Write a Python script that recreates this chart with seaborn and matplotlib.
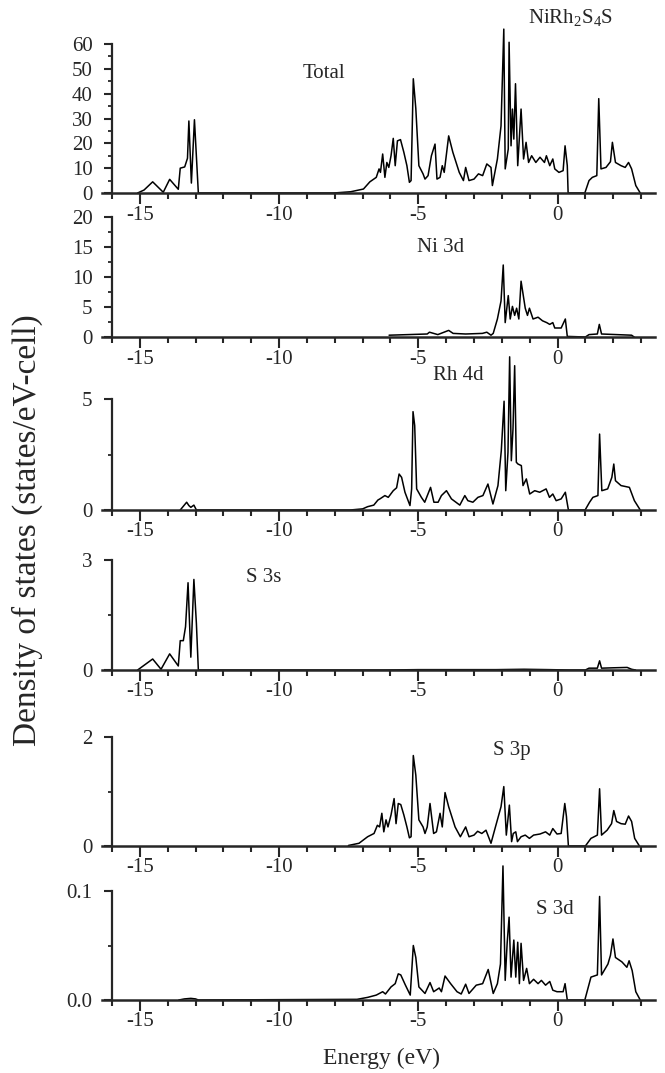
import matplotlib
matplotlib.use('Agg')
import matplotlib.pyplot as plt
from matplotlib.ticker import MultipleLocator, FormatStrFormatter
import seaborn as sns
import pandas as pd

# =============================================================================
# Data (energy in eV, DOS in states/eV-cell)

e_total = [-15.08, -14.85, -14.54, -14.16, -13.93, -13.62, -13.55, -13.39, -13.29, -13.24,
           -13.15, -13.04, -12.9, -8.04, -7.43, -6.97, -6.74, -6.51, -6.41, -6.36,
           -6.28, -6.2, -6.13, -6.06, -5.98, -5.9, -5.83, -5.75, -5.64, -5.52,
           -5.41, -5.32, -5.26, -5.18, -5.09, -4.98, -4.83, -4.76, -4.65, -4.53,
           -4.4, -4.33, -4.22, -4.14, -4.07, -3.91, -3.76, -3.53, -3.38, -3.3,
           -3.18, -3.0, -2.84, -2.69, -2.54, -2.39, -2.34, -2.16, -2.03, -1.93,
           -1.88, -1.77, -1.74, -1.67, -1.62, -1.57, -1.51, -1.43, -1.31, -1.22,
           -1.13, -1.04, -0.93, -0.78, -0.63, -0.47, -0.4, -0.28, -0.17, -0.1,
           0.05, 0.2, 0.27, 0.35, 0.38, 0.98, 1.13, 1.25, 1.41, 1.48,
           1.56, 1.74, 1.9, 1.97, 2.08, 2.28, 2.43, 2.55, 2.66, 2.81, 2.97]
dos_total = [0, 1.2, 4.5, 0.3, 5.5, 1.5, 10, 10.5, 14, 29,
             4, 29.5, 0, 0, 0.5, 1.6, 4.5, 6.3, 9.7, 8.3,
             15.7, 6.3, 12.3, 10.3, 15, 22, 11, 21, 21.5, 16.4,
             11, 4.3, 5, 46, 34, 11, 7.7, 5.6, 7, 15,
             19.7, 5.6, 6.3, 11, 8.3, 23, 16.4, 8.3, 5, 10.3,
             5, 5.6, 7.7, 7, 11.7, 10.3, 3, 13.7, 27, 66,
             9.7, 17.7, 60.7, 19, 33.8, 21.7, 44, 11, 33.8, 13.7,
             20.4, 12.3, 15, 12.3, 14.4, 12.3, 15, 11, 13.7, 9.7,
             8.3, 9, 19, 11, 0, 0, 5, 6.3, 7, 38,
             9.7, 10.3, 12.6, 20.4, 12.3, 11, 10.3, 12.3, 9.7, 3, 0]

e_ni3d = [-6.05, -4.68, -4.6, -4.3, -3.91, -3.75, -3.3, -2.7, -2.54, -2.39,
          -2.31, -2.16, -2.03, -1.95, -1.88, -1.77, -1.7, -1.62, -1.54, -1.47,
          -1.39, -1.31, -1.24, -1.16, -1.08, -1.01, -0.88, -0.7, -0.54, -0.39,
          -0.28, -0.17, -0.1, 0.13, 0.28, 0.35, 1.0, 1.13, 1.43, 1.5,
          1.58, 2.66, 2.75]
dos_ni3d = [0.3, 0.5, 0.8, 0.4, 1.1, 0.6, 0.5, 0.6, 0.8, 0.3,
            0.6, 3, 6, 12, 2.4, 6.9, 3, 5.1, 3.6, 4.8,
            3, 9.3, 7.2, 4.8, 3.6, 4.8, 3, 3.3, 2.7, 2.4,
            2.1, 2.4, 1.5, 1.5, 3, 0.1, 0, 0.4, 0.5, 2.1,
            0.5, 0.3, 0]

e_rh4d = [-13.55, -13.32, -13.24, -13.17, -13.06, -12.97, -7.45, -7.0, -6.82, -6.6,
          -6.45, -6.38, -6.2, -6.08, -5.9, -5.78, -5.69, -5.6, -5.48, -5.3,
          -5.24, -5.19, -5.13, -5.06, -4.89, -4.77, -4.56, -4.44, -4.29, -4.17,
          -3.99, -3.81, -3.51, -3.33, -3.22, -3.04, -2.86, -2.68, -2.5, -2.32,
          -2.14, -2.02, -1.92, -1.86, -1.78, -1.72, -1.66, -1.6, -1.54, -1.48,
          -1.42, -1.3, -1.24, -1.12, -1.0, -0.82, -0.64, -0.41, -0.29, -0.17,
          -0.05, 0.13, 0.28, 0.39, 0.99, 1.15, 1.27, 1.45, 1.51, 1.59,
          1.8, 1.95, 2.02, 2.08, 2.28, 2.58, 2.76, 2.97]
dos_rh4d = [0, 0.35, 0.2, 0.12, 0.22, 0, 0, 0.05, 0.15, 0.22,
            0.45, 0.5, 0.65, 0.57, 0.87, 1.0, 1.62, 1.47, 0.8, 0.2,
            0.95, 4.43, 3.8, 0.95, 0.57, 0.35, 1.02, 0.35, 0.35, 0.65,
            0.87, 0.5, 0.22, 0.65, 0.42, 0.35, 0.57, 0.65, 1.17, 0.27,
            1.1, 2.67, 4.9, 0.87, 2.6, 6.9, 2.22, 3.65, 6.5, 2.15,
            2.07, 2.0, 1.1, 1.4, 0.72, 0.87, 0.8, 0.95, 0.57, 0.72,
            0.42, 0.5, 0.8, 0, 0, 0.35, 0.57, 0.65, 3.42, 0.87,
            0.95, 1.47, 2.07, 1.32, 1.1, 1.02, 0.42, 0]

e_s3s = [-15.08, -14.54, -14.24, -13.93, -13.62, -13.55, -13.44, -13.36, -13.27, -13.17,
         -13.06, -12.97, -12.9, -6.2, -5.0, -4.0, -2.2, -1.2, -0.3, 0.4,
         1.0, 1.13, 1.43, 1.51, 1.58, 2.0, 2.5, 2.66, 2.8]
dos_s3s = [0, 0.3, 0.02, 0.44, 0.11, 0.8, 0.8, 1.18, 2.38, 0.35,
           2.47, 1.27, 0, 0, 0.01, 0.01, 0.01, 0.02, 0.01, 0,
           0, 0.05, 0.05, 0.25, 0.05, 0.06, 0.07, 0.02, 0]

e_s3p = [-7.51, -7.13, -6.82, -6.59, -6.47, -6.39, -6.31, -6.24, -6.16, -6.09,
         -5.98, -5.87, -5.8, -5.72, -5.63, -5.52, -5.41, -5.32, -5.26, -5.18,
         -5.09, -4.98, -4.83, -4.76, -4.68, -4.58, -4.45, -4.35, -4.22, -4.14,
         -4.04, -3.91, -3.68, -3.49, -3.3, -3.18, -3.0, -2.87, -2.72, -2.57,
         -2.39, -2.23, -2.03, -1.93, -1.84, -1.73, -1.65, -1.59, -1.5, -1.44,
         -1.31, -1.16, -1.01, -0.86, -0.63, -0.43, -0.28, -0.17, -0.02, 0.13,
         0.26, 0.32, 0.39, 1.0, 1.2, 1.43, 1.51, 1.58, 1.78, 1.94,
         2.02, 2.12, 2.28, 2.43, 2.55, 2.66, 2.77, 2.94]
dos_s3p = [0.01, 0.05, 0.17, 0.23, 0.38, 0.35, 0.6, 0.26, 0.48, 0.35,
           0.57, 0.87, 0.41, 0.78, 0.76, 0.57, 0.35, 0.15, 0.17, 1.66,
           1.3, 0.48, 0.35, 0.23, 0.35, 0.78, 0.23, 0.26, 0.6, 0.35,
           0.98, 0.72, 0.35, 0.17, 0.35, 0.17, 0.2, 0.27, 0.23, 0.29,
           0.05, 0.35, 0.72, 1.09, 0.2, 0.75, 0.08, 0.23, 0.26, 0.08,
           0.17, 0.2, 0.14, 0.2, 0.22, 0.26, 0.2, 0.32, 0.22, 0.23,
           0.78, 0.54, 0, 0, 0.14, 0.2, 1.05, 0.2, 0.29, 0.41,
           0.65, 0.45, 0.41, 0.4, 0.55, 0.45, 0.14, 0]

e_s3d = [-13.6, -13.4, -13.17, -13.0, -12.9, -7.2, -6.82, -6.51, -6.28, -6.18,
         -5.98, -5.83, -5.72, -5.63, -5.47, -5.29, -5.18, -5.09, -4.98, -4.76,
         -4.58, -4.45, -4.25, -4.17, -4.04, -3.84, -3.61, -3.46, -3.3, -3.18,
         -2.92, -2.69, -2.49, -2.31, -2.16, -2.05, -1.96, -1.88, -1.81, -1.74,
         -1.67, -1.57, -1.5, -1.43, -1.37, -1.31, -1.22, -1.11, -1.01, -0.86,
         -0.7, -0.58, -0.43, -0.28, -0.17, -0.02, 0.2, 0.27, 0.35, 0.98,
         1.2, 1.43, 1.51, 1.58, 1.81, 1.9, 1.99, 2.08, 2.31, 2.49,
         2.57, 2.68, 2.81, 2.97]
dos_s3d = [0, 0.001, 0.0015, 0.001, 0, 0.0006, 0.0024, 0.0045, 0.0076, 0.0055,
           0.012, 0.015, 0.024, 0.023, 0.014, 0.0045, 0.05, 0.039, 0.012, 0.006,
           0.016, 0.0076, 0.011, 0.0076, 0.022, 0.015, 0.0076, 0.0055, 0.0145, 0.006,
           0.0136, 0.015, 0.028, 0.006, 0.015, 0.033, 0.123, 0.018, 0.052, 0.076,
           0.021, 0.055, 0.021, 0.053, 0.015, 0.052, 0.018, 0.029, 0.015, 0.019,
           0.015, 0.018, 0.0136, 0.017, 0.009, 0.0076, 0.0076, 0.015, 0, 0,
           0.021, 0.023, 0.095, 0.023, 0.033, 0.041, 0.056, 0.039, 0.035, 0.03,
           0.036, 0.027, 0.0076, 0]

panel_names = ['Total', 'Ni 3d', 'Rh 4d', 'S 3s', 'S 3p', 'S 3d']
y_top = [60, 20, 5, 3, 2, 0.1]
y_major = [10, 5, 5, 3, 2, 0.1]
y_minor = [5, 2.5, 2.5, 1.5, 1, 0.05]

# =============================================================================
# Style

sns.set_style('ticks')
plt.rcParams['font.family'] = ['Liberation Serif', 'DejaVu Serif']
plt.rcParams['mathtext.fontset'] = 'custom'
plt.rcParams['mathtext.rm'] = 'Liberation Serif'
plt.rcParams['mathtext.it'] = 'Liberation Serif:italic'
plt.rcParams['axes.unicode_minus'] = False

W, H = 665, 1073
fig = plt.figure(figsize=(W / 100, H / 100), dpi=100)

# pixel layout: zero line, top tick, label position
zero_px = [193, 337, 510, 670, 846, 1000]
top_px = [44, 217, 399, 560, 737, 891]
lab_xy = [(324, 73), (441, 248), (458, 376), (264, 577), (512, 751), (555, 910)]
ax_left, ax_right = 102, 655

lstE = [e_total, e_ni3d, e_rh4d, e_s3s, e_s3p, e_s3d]
lstD = [dos_total, dos_ni3d, dos_rh4d, dos_s3s, dos_s3p, dos_s3d]

for i in range(6):
    ax = fig.add_axes([ax_left / W, 1 - zero_px[i] / H,
                       (ax_right - ax_left) / W, (zero_px[i] - top_px[i]) / H])
    df = pd.DataFrame({'Energy': lstE[i], 'DOS': lstD[i]})
    sns.lineplot(x='Energy', y='DOS', data=df, ax=ax, color='black',
                 linewidth=1.1, estimator=None, sort=False, clip_on=False)
    ax.set_xlim(-16.36, 3.5)
    ax.set_ylim(0, y_top[i])
    ax.set_xlabel('')
    ax.set_ylabel('')
    for s in ['top', 'right']:
        ax.spines[s].set_visible(False)
    ax.spines['left'].set_position(('data', -16))
    ax.spines['left'].set_linewidth(1.6)
    ax.spines['bottom'].set_linewidth(1.8)
    ax.xaxis.set_major_locator(MultipleLocator(5))
    ax.xaxis.set_minor_locator(MultipleLocator(1))
    ax.yaxis.set_major_locator(MultipleLocator(y_major[i]))
    ax.yaxis.set_minor_locator(MultipleLocator(y_minor[i]))
    if i == 5:
        ax.yaxis.set_major_formatter(FormatStrFormatter('%.1f'))
    else:
        ax.yaxis.set_major_formatter(FormatStrFormatter('%g'))
    ax.tick_params(axis='x', which='major', direction='out', length=8, width=1.5,
                   pad=1, labelsize=15)
    ax.tick_params(axis='x', which='minor', direction='out', length=4, width=1.5)
    ax.tick_params(axis='y', which='major', direction='out', length=6, width=1.5,
                   pad=8, labelsize=15)
    ax.tick_params(axis='y', which='minor', direction='out', length=3, width=1.3)
    ax.patch.set_alpha(0)
    fig.text(lab_xy[i][0] / W, 1 - lab_xy[i][1] / H, panel_names[i],
             ha='center', va='center', fontsize=15)

fig.text(571 / W, 1 - 18 / H, r'NiRh$_2$S$_4$S', ha='center', va='center', fontsize=15)
fig.text(382 / W, 1 - 1058 / H, 'Energy (eV)', ha='center', va='center', fontsize=17)
fig.text(27 / W, 1 - 530 / H, 'Density of states (states/eV-cell)', ha='center',
         va='center', rotation=90, fontsize=24)

plt.savefig('out.png', dpi=100)
plt.close('all')
